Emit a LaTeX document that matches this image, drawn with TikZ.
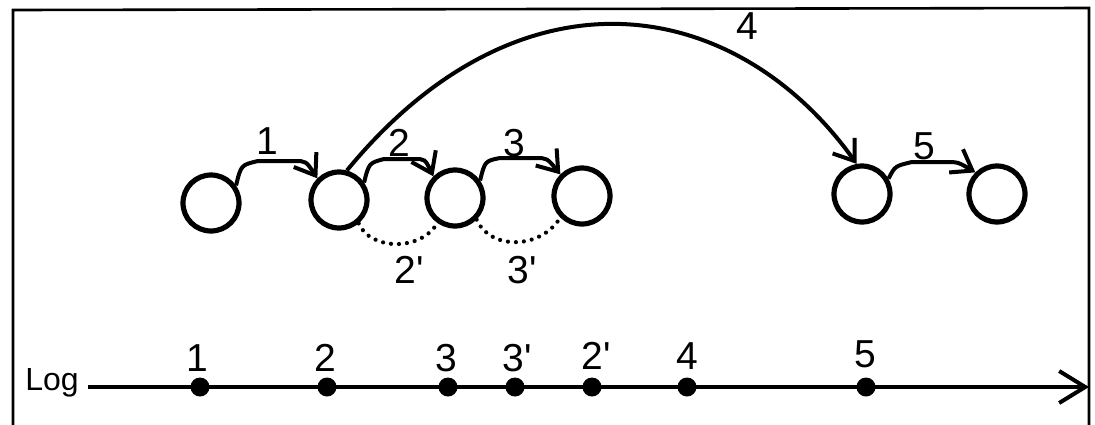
\documentclass[tikz,border=0pt]{standalone}
\usepackage{fontspec}
\setmainfont{Liberation Sans}
\usetikzlibrary{arrows.meta}
\begin{document}
\begin{tikzpicture}[x=1pt,y=-1pt,
  st/.style={circle,draw,line width=5.2pt,minimum size=56pt,inner sep=0pt},
  arr/.style={line width=4pt,-{Straight Barb[length=19pt,width=27pt,line width=4pt]}},
  lab/.style={font=\fontsize{39}{40}\selectfont,inner sep=0pt},
  dotted arc/.style={line width=4.2pt,line cap=round,dash pattern=on 0pt off 8pt},
  logdot/.style={circle,fill=black,minimum size=19pt,inner sep=0pt},
  frame/.style={line width=2.6pt}
]
\useasboundingbox (0,0) rectangle (1095,424);
% frame
\draw[frame] (13,430) -- (13,10) -- (1089,8) -- (1089,430);

% states
\node[st] (c1) at (211,203) {};
\node[st] (c2) at (339,200) {};
\node[st] (c3) at (455,198) {};
\node[st] (c4) at (582,196) {};
\node[st] (c5) at (862,194) {};
\node[st] (c6) at (997,194) {};

% short transitions
\draw[arr] (c1.35) .. controls (241,165) .. (258,161) -- (294,161) .. controls (306,161) .. (c2.135);
\draw[arr] (c2.35) .. controls (369,163) .. (384,159) -- (414,159) .. controls (425,159) .. (c3.135);
\draw[arr] (c3.35) .. controls (485,161) .. (500,158) -- (535,158) .. controls (547,158) .. (c4.135);
\draw[arr] (c5.30) .. controls (895,166) .. (912,162) -- (945,162) .. controls (958,162) .. (c6.135);
% long transition
\draw[arr] (c2.75) .. controls (520,-40) and (735,-6) .. (c5.100);

% undo transitions
\draw[dotted arc] (c2.-50) .. controls (370,250) and (420,252) .. (c3.-125);
\draw[dotted arc] (c3.-45) .. controls (490,250) and (540,250) .. (c4.-135);

% labels
\node[lab] (t1) at (267,141) {1};
\node[lab] (t2) at (399,143) {2};
\node[lab] (t3) at (514,143) {3};
\node[lab] (t4) at (747,26) {4};
\node[lab] (t5) at (924,146) {5};
\node[lab] (t2p) at (409,270) {2\textquotesingle};
\node[lab] (t3p) at (522,270) {3\textquotesingle};

% log
\node[font=\fontsize{32}{34}\selectfont,inner sep=0pt] (log) at (52,383) {Log};
\coordinate (lend) at (1089,387);
\draw[line width=4pt,-{Straight Barb[length=26pt,width=32pt,line width=4pt]}] ([xshift=9pt]log.east |- lend) -- (lend);
\node[logdot] (l1) at (200,387) {};
\node[logdot] (l2) at (327,387) {};
\node[logdot] (l3) at (448,387) {};
\node[logdot] (l3p) at (515,387) {};
\node[logdot] (l2p) at (592,387) {};
\node[logdot] (l4) at (687,387) {};
\node[logdot] (l5) at (866,387) {};
\node[lab] at (197,358) {1};
\node[lab] at (325,358) {2};
\node[lab] at (446,358) {3};
\node[lab] at (517,358) {3\textquotesingle};
\node[lab] at (596,356) {2\textquotesingle};
\node[lab] at (687,356) {4};
\node[lab] at (865,354) {5};
\end{tikzpicture}
\end{document}
